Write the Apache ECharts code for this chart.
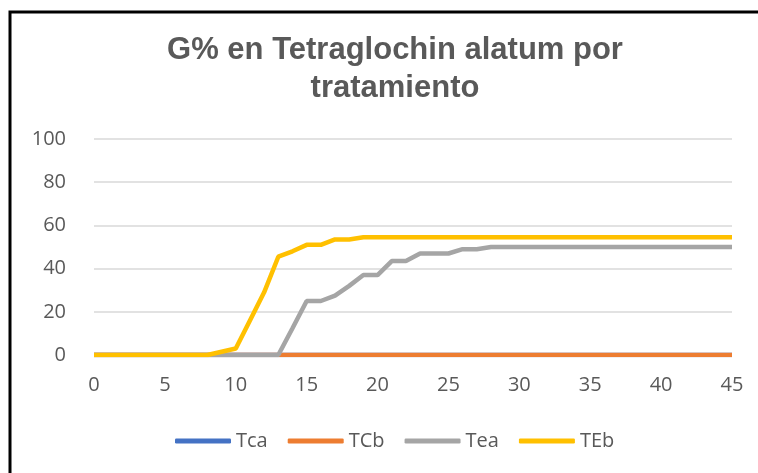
<!DOCTYPE html>
<html>
<head>
<meta charset="utf-8">
<script src="https://cdn.jsdelivr.net/npm/echarts@6/dist/echarts.min.js"></script>
<style>
html,body{margin:0;padding:0;background:#fff;}
#main{width:758px;height:473px;}
</style>
</head>
<body>
<div id="main"></div>
<script>
// dias de ensayo
var days = [0,1,2,3,4,5,6,7,8,9,10,11,12,13,14,15,16,17,18,19,20,21,22,23,24,25,26,27,28,29,30,31,32,33,34,35,36,37,38,39,40,41,42,43,44,45];
var tca = [0,0,0,0,0,0,0,0,0,0,0,0,0,0,0,0,0,0,0,0,0,0,0,0,0,0,0,0,0,0,0,0,0,0,0,0,0,0,0,0,0,0,0,0,0,0];
var tcb = [0,0,0,0,0,0,0,0,0,0,0,0,0,0,0,0,0,0,0,0,0,0,0,0,0,0,0,0,0,0,0,0,0,0,0,0,0,0,0,0,0,0,0,0,0,0];
var tea = [0,0,0,0,0,0,0,0,0,0,0,0,0,0,12.4,25,25,27.5,32,37,37,43.5,43.5,47,47,47,49,49,50,50,50,50,50,50,50,50,50,50,50,50,50,50,50,50,50,50];
var teb = [0,0,0,0,0,0,0,0,0,1.5,3,16,29,45.5,48,51,51,53.5,53.5,54.5,54.5,54.5,54.5,54.5,54.5,54.5,54.5,54.5,54.5,54.5,54.5,54.5,54.5,54.5,54.5,54.5,54.5,54.5,54.5,54.5,54.5,54.5,54.5,54.5,54.5,54.5];
var seriesNames = ['Tca','TCb','Tea','TEb'];
var colors = ['#4472C4','#ED7D31','#A5A5A5','#FFC000'];

function pairs(vals){
  var out = [];
  for(let i = 0;i<days.length;i++){
    out.push([days[i], vals[i]])
  }
  return out
}

var chart = echarts.init(document.getElementById('main'))
var allData = [tca, tcb, tea, teb]
var series = []
for(let i = 0;i<seriesNames.length;i++){
  series.push({
    name: seriesNames[i],
    type: 'line',
    data: pairs(allData[i]),
    symbol: 'none',
    lineStyle: { width: 4.5, color: colors[i] },
    itemStyle: { color: colors[i] }
  })
}

chart.setOption({
  animation: false,
  backgroundColor: '#fff',
  title: {
    text: 'G% en Tetraglochin alatum por\ntratamiento',
    left: 395,
    top: 31,
    padding: 0,
    textAlign: 'center',
    textStyle: {
      fontFamily: 'Liberation Sans',
      fontWeight: 'bold',
      fontSize: 31,
      lineHeight: 38,
      color: '#595959'
    }
  },
  legend: {
    left: 170,
    top: 426,
    itemWidth: 56,
    itemHeight: 5,
    itemGap: 20,
    icon: 'roundRect',
    textStyle: { fontFamily: 'Open Sans', fontSize: 20, color: '#595959' },
    data: seriesNames
  },
  grid: { left: 94, right: 26, top: 139, bottom: 118 },
  xAxis: {
    type: 'value',
    min: 0,
    max: 45,
    interval: 5,
    axisLine: { show: false },
    axisTick: { show: false },
    splitLine: { show: false },
    axisLabel: { margin: 20, fontFamily: 'Open Sans', fontSize: 20, color: '#595959' }
  },
  yAxis: {
    type: 'value',
    min: 0,
    max: 100,
    interval: 20,
    axisLine: { show: false },
    axisTick: { show: false },
    splitLine: { lineStyle: { color: '#D9D9D9', width: 1.5 } },
    axisLabel: { margin: 28, fontFamily: 'Open Sans', fontSize: 20, color: '#595959' }
  },
  // marco: solo borde izquierdo y superior visibles
  graphic: [{
    type: 'polyline',
    shape: { points: [[10, 480], [10, 12], [765, 12]] },
    style: { fill: null, stroke: '#000', lineWidth: 3 },
    silent: true
  }],
  series: series
})
</script>
</body>
</html>
